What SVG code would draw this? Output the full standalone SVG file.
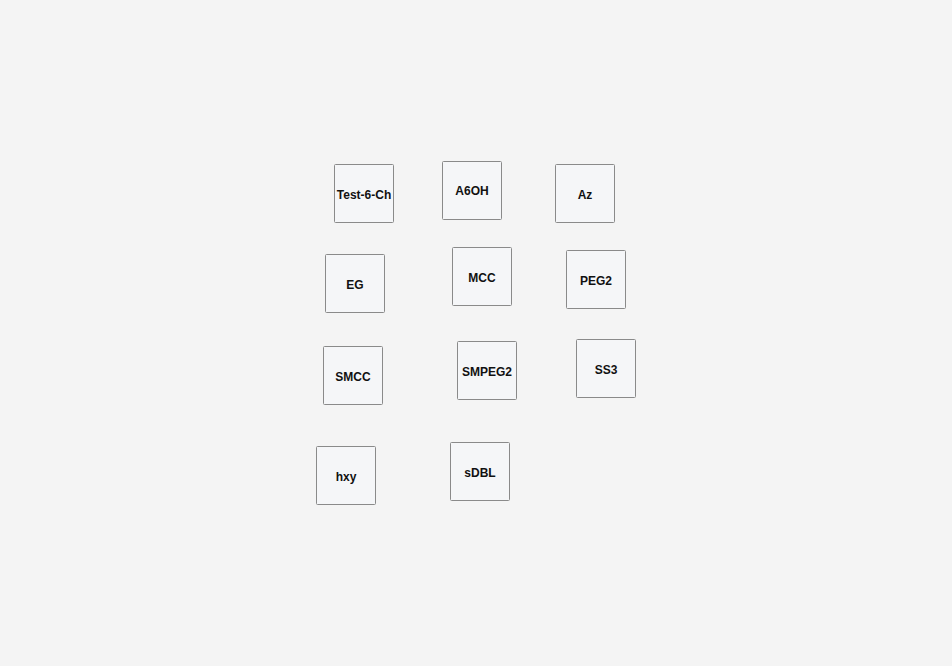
<svg xmlns="http://www.w3.org/2000/svg" width="952" height="666" viewBox="0 0 952 666">
<style>
.n rect{fill:#f5f6f8;stroke:#8a8a8a;stroke-width:1}
.n text{font-family:"Liberation Sans",Arial,sans-serif;font-size:12px;font-weight:bold;fill:#111;text-anchor:middle;dominant-baseline:central}
</style>
<rect width="952" height="666" fill="#f4f4f4"/>
<g id="connectors"></g>
<g id="n-test6ch" class="n"><rect x="334.5" y="164.5" width="59" height="58" rx="1"/><text x="364" y="195">Test-6-Ch</text></g>
<g id="n-a6oh" class="n"><rect x="442.5" y="161.5" width="59" height="58" rx="1"/><text x="472" y="191">A6OH</text></g>
<g id="n-az" class="n"><rect x="555.5" y="164.5" width="59" height="58" rx="1"/><text x="585" y="195">Az</text></g>
<g id="n-eg" class="n"><rect x="325.5" y="254.5" width="59" height="58" rx="1"/><text x="355" y="285">EG</text></g>
<g id="n-mcc" class="n"><rect x="452.5" y="247.5" width="59" height="58" rx="1"/><text x="482" y="278">MCC</text></g>
<g id="n-peg2" class="n"><rect x="566.5" y="250.5" width="59" height="58" rx="1"/><text x="596" y="281">PEG2</text></g>
<g id="n-smcc" class="n"><rect x="323.5" y="346.5" width="59" height="58" rx="1"/><text x="353" y="377">SMCC</text></g>
<g id="n-smpeg2" class="n"><rect x="457.5" y="341.5" width="59" height="58" rx="1"/><text x="487" y="372">SMPEG2</text></g>
<g id="n-ss3" class="n"><rect x="576.5" y="339.5" width="59" height="58" rx="1"/><text x="606" y="370">SS3</text></g>
<g id="n-hxy" class="n"><rect x="316.5" y="446.5" width="59" height="58" rx="1"/><text x="346" y="477">hxy</text></g>
<g id="n-sdbl" class="n"><rect x="450.5" y="442.5" width="59" height="58" rx="1"/><text x="480" y="473">sDBL</text></g>
</svg>
